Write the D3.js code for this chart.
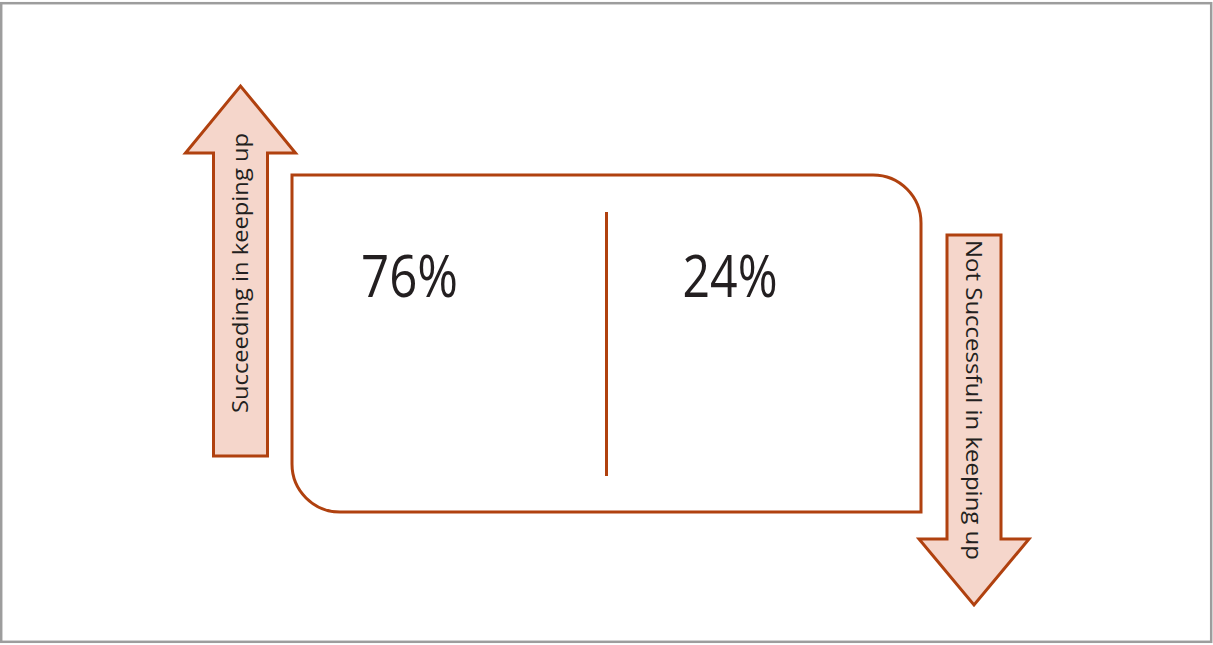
<!DOCTYPE html>
<html>
<head>
<meta charset="utf-8">
<script src="https://cdn.jsdelivr.net/npm/d3@7"></script>
<style>
  body { margin: 0; background: #fff; }
  svg { display: block; }
</style>
</head>
<body>
<svg id="chart" width="1213" height="645"></svg>
<script>
// shares of respondents
const categories = ["Succeeding", "Not Successful"];
const shares = [76, 24];
const arrowLabels = ["Succeeding in keeping up", "Not Successful in keeping up"];

const stroke = "#b0410f";
const fill = "#f5d6cb";
const textColor = "#231f20";

const svg = d3.select("#chart");

// outer frame
svg.append("rect")
  .attr("x", 1.2).attr("y", 3.2)
  .attr("width", 1210).attr("height", 638.6)
  .attr("fill", "none")
  .attr("stroke", "#9d9d9d")
  .attr("stroke-width", 2.5);

const box = { left: 292, right: 921, top: 175, bottom: 512, r: 48 };

const x = d3.scaleBand()
  .domain(categories)
  .range([box.left, box.right]);

// box with rounded top-right and bottom-left corners
const p = d3.path();
p.moveTo(box.left, box.top);
p.lineTo(box.right - box.r, box.top);
p.arcTo(box.right, box.top, box.right, box.top + box.r, box.r);
p.lineTo(box.right, box.bottom);
p.lineTo(box.left + box.r, box.bottom);
p.arcTo(box.left, box.bottom, box.left, box.bottom - box.r, box.r);
p.closePath();

svg.append("path")
  .attr("d", p.toString())
  .attr("fill", "none")
  .attr("stroke", stroke)
  .attr("stroke-width", 3);

// divider
svg.append("line")
  .attr("x1", x(categories[1])).attr("x2", x(categories[1]))
  .attr("y1", 212).attr("y2", 476)
  .attr("stroke", stroke)
  .attr("stroke-width", 3);

svg.selectAll("text.share")
  .data(shares)
  .join("text")
  .attr("class", "share")
  .attr("x", (d, i) => x(categories[i]) + (i === 0 ? 69 : 76))
  .attr("y", 297)
  .attr("fill", textColor)
  .attr("textLength", (d, i) => i === 0 ? 97 : 95)
  .attr("lengthAdjust", "spacingAndGlyphs")
  .style("font-family", "'Open Sans', sans-serif")
  .style("font-size", "58px")
  .text(d => d + "%");

// arrows: shaft width 54, head width 110
function arrow(cx, tail, tip, headBase) {
  const sw = 27, hw = 55;
  const pts = [
    [cx - sw, tail], [cx - sw, headBase], [cx - hw, headBase],
    [cx, tip], [cx + hw, headBase], [cx + sw, headBase], [cx + sw, tail]
  ];
  return d3.line()(pts) + "Z";
}

const arrows = [
  { cx: 240.5, tail: 456, tip: 86, headBase: 153, rot: -90, ty: 273, len: 280 },
  { cx: 974, tail: 235, tip: 605, headBase: 539, rot: 90, ty: 400, len: 320 }
];

const ag = svg.selectAll("g.arrow")
  .data(arrows)
  .join("g")
  .attr("class", "arrow");

ag.append("path")
  .attr("d", d => arrow(d.cx, d.tail, d.tip, d.headBase))
  .attr("fill", fill)
  .attr("stroke", stroke)
  .attr("stroke-width", 3)
  .attr("stroke-linejoin", "miter");

ag.append("text")
  .attr("transform", d => `translate(${d.cx},${d.ty}) rotate(${d.rot})`)
  .attr("text-anchor", "middle")
  .attr("dy", "0.35em")
  .attr("fill", textColor)
  .attr("textLength", d => d.len)
  .attr("lengthAdjust", "spacingAndGlyphs")
  .style("font-family", "'Open Sans', sans-serif")
  .style("font-size", "22px")
  .text((d, i) => arrowLabels[i]);
</script>
</body>
</html>
